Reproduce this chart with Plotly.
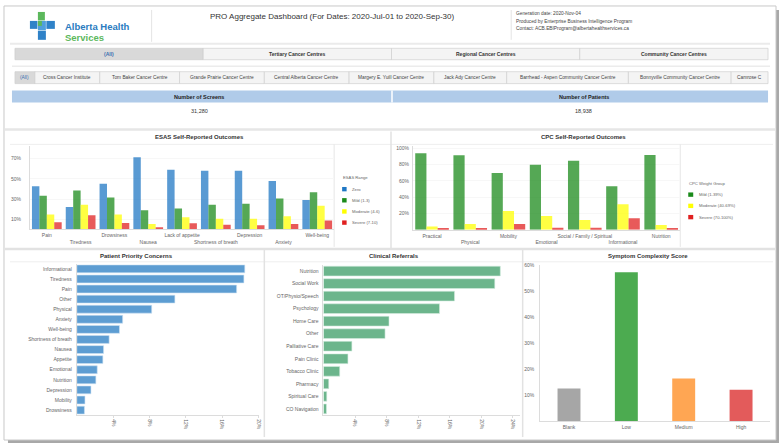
import plotly.graph_objects as go

W, H = 784, 445
FONT = "Liberation Sans, Arial, sans-serif"

# ---------------- data ----------------
esas_cats = ["Pain", "Tiredness", "Drowsiness", "Nausea", "Lack of appetite",
             "Shortness of breath", "Depression", "Anxiety", "Well-being"]
esas_zero = [42.7, 22.1, 45.0, 71.3, 59.0, 58.0, 58.0, 47.9, 29.0]
esas_mild = [33.2, 38.4, 31.6, 18.9, 20.8, 24.4, 25.4, 30.6, 36.8]
esas_moderate = [14.7, 24.4, 14.7, 5.5, 12.0, 10.7, 10.7, 13.0, 23.5]
esas_severe = [7.2, 14.0, 6.5, 2.3, 6.2, 4.6, 4.2, 5.5, 8.8]
esas_names = ["Zero", "Mild (1-3)", "Moderate (4-6)", "Severe (7-10)"]
esas_ticks = [10, 30, 50, 70]

cpc_cats = ["Practical", "Physical", "Mobility", "Emotional",
            "Social / Family / Spiritual", "Informational", "Nutrition"]
cpc_mild = [93.9, 91.4, 69.8, 80.0, 84.9, 53.5, 91.8]
cpc_moderate = [4.0, 7.0, 22.9, 16.7, 11.8, 31.4, 5.7]
cpc_severe = [2.0, 2.0, 7.0, 2.4, 2.4, 13.9, 2.0]
cpc_names = ["Mild (1-39%)", "Moderate (40-69%)", "Severe (70-100%)"]
cpc_ticks = [20, 40, 60, 80, 100]

concern_cats = ["Informational", "Tiredness", "Pain", "Other", "Physical", "Anxiety",
                "Well-being", "Shortness of breath", "Nausea", "Appetite", "Emotional",
                "Nutrition", "Depression", "Mobility", "Drowsiness"]
concern_vals = [18.5, 18.4, 17.6, 10.8, 8.25, 5.05, 4.7, 3.56, 2.95, 2.87, 2.25,
                2.1, 1.56, 0.9, 0.84]
concern_ticks = [4, 8, 12, 16, 20]

referral_cats = ["Nutrition", "Social Work", "OT/Physio/Speech", "Psychology", "Home Care",
                 "Other", "Palliative Care", "Pain Clinic", "Tobacco Clinic", "Pharmacy",
                 "Spiritual Care", "CO Navigation"]
referral_vals = [22.4, 21.7, 16.6, 14.7, 8.3, 7.8, 3.6, 3.1, 2.06, 0.67, 0.42, 0.38]
referral_ticks = [4, 8, 12, 16, 20, 24]

complexity_cats = ["Blank", "Low", "Medium", "High"]
complexity_vals = [12.7, 57.4, 16.5, 12.2]
complexity_ticks = [10, 20, 30, 40, 50, 60]

group_tabs = ["(All)", "Tertiary Cancer Centres", "Regional Cancer Centres",
              "Community Cancer Centres"]
site_tabs = ["(All)", "Cross Cancer Institute", "Tom Baker Cancer Centre",
             "Grande Prairie Cancer Centre", "Central Alberta Cancer Centre",
             "Margery E. Yuill Cancer Centre", "Jack Ady Cancer Centre",
             "Barrhead - Aspen Community Cancer Centre",
             "Bonnyville Community Cancer Centre", "Camrose C"]
kpi_labels = ["Number of Screens", "Number of Patients"]
kpi_values = ["31,280", "18,938"]
title_text = "PRO Aggregate Dashboard (For Dates: 2020-Jul-01 to 2020-Sep-30)"
info_lines = ["Generation date: 2020-Nov-04",
              "Produced by Enterprise Business Intelligence Program",
              "Contact: ACB.EBIProgram@albertahealthservices.ca"]

# ---------------- styles ----------------
esas_colors = ["#1f77c4", "#1a8a1a", "#ffff00", "#e02020"]
cpc_colors = ["#1a8a1a", "#ffff00", "#e02020"]
concern_color = "#5d9dd2"
referral_color = "#6cb58c"
complexity_colors = ["#a6a6a6", "#4cab50", "#ffa653", "#e35b5b"]
site_edges = [15, 35, 100, 180, 265, 350, 435, 508, 630, 733, 770]


def X(px):
    return px / W


def Y(py):
    return 1 - py / H


def pct(vals):
    return [f"{v}%" for v in vals]


shapes = []
annotations = []


def rect(x0, y0, x1, y1, fill=None, line=None, lw=1):
    shapes.append(dict(type="rect", xref="paper", yref="paper",
                       x0=X(x0), x1=X(x1), y0=Y(y1), y1=Y(y0),
                       fillcolor=fill or "rgba(0,0,0,0)",
                       line=dict(color=line or "rgba(0,0,0,0)", width=lw if line else 0),
                       layer="below"))


def hline(x0, x1, y, color="#e0e0e0", lw=1):
    shapes.append(dict(type="line", xref="paper", yref="paper", x0=X(x0), x1=X(x1),
                       y0=Y(y), y1=Y(y), line=dict(color=color, width=lw), layer="below"))


def vline(x, y0, y1, color="#e0e0e0", lw=1):
    shapes.append(dict(type="line", xref="paper", yref="paper", x0=X(x), x1=X(x),
                       y0=Y(y0), y1=Y(y1), line=dict(color=color, width=lw), layer="below"))


def txt(x, y, s, size=5, color="#333", xanchor="center", bold=False, family=FONT):
    annotations.append(dict(x=X(x), y=Y(y), xref="paper", yref="paper",
                            text=f"<b>{s}</b>" if bold else s, showarrow=False,
                            font=dict(size=size, color=color, family=family),
                            xanchor=xanchor, yanchor="middle", borderpad=0))


# ---------------- frame ----------------
rect(8, 8, 781, 443, fill="#a8a8a8")
rect(4, 4, 778, 440, fill="#ffffff", line="#c8c8c8")

# header / logo
rect(38, 10, 45, 18.5, fill="#5cb85c")
rect(30, 19, 37.5, 27, fill="#2f82c8")
rect(38, 19, 46, 28.5, fill="#4f9fdc")
rect(38, 19, 42, 24, fill="#5cb85c")
rect(46.5, 19, 55, 27, fill="#2f82c8")
rect(38, 29, 46, 38, fill="#2f82c8")
txt(64, 25, "Alberta Health", size=9.5, color="#2a7bc0", xanchor="left", bold=True)
txt(64, 35.5, "Services", size=9.5, color="#5cb85c", xanchor="left", bold=True)
vline(152, 8, 40, "#e4e4e4")
vline(512.5, 8, 38, "#e4e4e4")
txt(333, 15, title_text, size=8, color="#333")
for i, s in enumerate(info_lines):
    txt(516, 12 + i * 7.3, s, size=4.8, color="#444", xanchor="left")
hline(10, 772, 42, "#ebebeb", 2)

# group tabs
tw = (770 - 15) / len(group_tabs)
for i, s in enumerate(group_tabs):
    x0 = 15 + i * tw
    rect(x0, 46.5, x0 + tw, 58, fill="#d9d9d9" if i == 0 else "#f4f4f4", line="#cfcfcf", lw=0.7)
    txt(x0 + tw / 2, 52.3, s, size=5, color="#3a6fb0" if i == 0 else "#333", bold=True)
hline(12, 772, 64.5, "#ececec", 1.5)

# site tabs
for i, s in enumerate(site_tabs):
    x0, x1 = site_edges[i], site_edges[i + 1]
    rect(x0, 70, x1, 82, fill="#d9d9d9" if i == 0 else "#f4f4f4", line="#d0d0d0", lw=0.7)
    txt((x0 + x1) / 2, 76, s, size=4.8, color="#3a6fb0" if i == 0 else "#444")

# KPI bar
rect(12, 89, 770, 101, fill="#b0cbe9")
vline(393, 89, 101, "#ffffff", 1.5)
for i, (lab, val) in enumerate(zip(kpi_labels, kpi_values)):
    cx = 200 if i == 0 else 585
    txt(cx, 95, lab, size=5.5, color="#222", bold=True)
    txt(cx, 109, val, size=5.5, color="#333")

# section separators
hline(5, 777, 128, "#e6e6e6", 2.5)
hline(10, 775, 143, "#eeeeee", 1)
vline(392, 130, 248, "#e2e2e2", 1.5)
vline(335, 143, 246, "#e6e6e6", 1)
vline(682, 143, 246, "#e6e6e6", 1)
hline(5, 777, 248, "#e2e2e2", 2.5)
hline(10, 775, 261, "#eeeeee", 1)
vline(265, 249, 437, "#e2e2e2", 1.5)
vline(524, 249, 437, "#e2e2e2", 1.5)

txt(200, 136, "ESAS Self-Reported Outcomes", size=6, color="#333", bold=True)
txt(585, 136, "CPC Self-Reported Outcomes", size=6, color="#333", bold=True)
txt(137, 255, "Patient Priority Concerns", size=6, color="#333", bold=True)
txt(395, 255, "Clinical Referrals", size=6, color="#333", bold=True)
txt(650, 255, "Symptom Complexity Score", size=6, color="#333", bold=True)

# manual legends
txt(343, 176, "ESAS Range", size=4.2, color="#666", xanchor="left")
for i, (n, c) in enumerate(zip(esas_names, esas_colors)):
    yy = 188 + i * 11.2
    rect(343, yy - 2.2, 347.5, yy + 2.2, fill=c)
    txt(352, yy, n, size=4.2, color="#666", xanchor="left")
txt(690, 182, "CPC Weight Group", size=4.2, color="#666", xanchor="left")
for i, (n, c) in enumerate(zip(cpc_names, cpc_colors)):
    yy = 193.5 + i * 11.3
    rect(690, yy - 2.2, 695, yy + 2.2, fill=c)
    txt(700, yy, n, size=4.2, color="#666", xanchor="left")

# ---------------- traces ----------------
fig = go.Figure()
for name, vals, col in zip(esas_names, [esas_zero, esas_mild, esas_moderate, esas_severe], esas_colors):
    fig.add_trace(go.Bar(x=esas_cats, y=vals, name=name,
                         marker=dict(color=col, opacity=0.74, line=dict(width=0)),
                         xaxis="x", yaxis="y", showlegend=False))
for name, vals, col in zip(cpc_names, [cpc_mild, cpc_moderate, cpc_severe], cpc_colors):
    fig.add_trace(go.Bar(x=cpc_cats, y=vals, name=name,
                         marker=dict(color=col, opacity=0.74, line=dict(width=0)),
                         xaxis="x2", yaxis="y2", showlegend=False))
fig.add_trace(go.Bar(x=concern_vals, y=concern_cats, orientation="h", width=0.78,
                     marker=dict(color=concern_color, line=dict(color="#cfe2f3", width=0.6)),
                     xaxis="x3", yaxis="y3", showlegend=False))
fig.add_trace(go.Bar(x=referral_vals, y=referral_cats, orientation="h", width=0.78,
                     marker=dict(color=referral_color, line=dict(color="#d5ece0", width=0.6)),
                     xaxis="x4", yaxis="y4", showlegend=False))
fig.add_trace(go.Bar(x=complexity_cats, y=complexity_vals, width=0.4,
                     marker=dict(color=complexity_colors, line=dict(width=0)),
                     xaxis="x5", yaxis="y5", showlegend=False))

tickf = dict(size=5, color="#666", family=FONT)
base = dict(showline=True, linecolor="#dcdcdc", linewidth=1, zeroline=False,
            tickfont=tickf, fixedrange=True, ticks="")

esas_ticktext = [c if i % 2 == 0 else "<br>" + c for i, c in enumerate(esas_cats)]
cpc_ticktext = [c if i % 2 == 0 else "<br>" + c for i, c in enumerate(cpc_cats)]

fig.update_layout(
    width=W, height=H, autosize=False,
    margin=dict(l=0, r=0, t=0, b=0),
    paper_bgcolor="#ffffff", plot_bgcolor="rgba(0,0,0,0)",
    font=dict(family=FONT),
    barmode="group", bargap=0.12, bargroupgap=0,
    showlegend=False,
    shapes=shapes, annotations=annotations,
    xaxis=dict(base, domain=[X(30), X(335)], anchor="y", tickmode="array",
               tickvals=esas_cats, ticktext=esas_ticktext, tickangle=0,
               showgrid=False, ticklabelstandoff=1),
    yaxis=dict(base, domain=[Y(228.5), Y(145)], anchor="x", range=[0, 82],
               tickmode="array", tickvals=esas_ticks, ticktext=pct(esas_ticks),
               showgrid=True, gridcolor="#f7f7f7", ticklabelstandoff=7),
    xaxis2=dict(base, domain=[X(414), X(682)], anchor="y2", tickmode="array",
                tickvals=cpc_cats, ticktext=cpc_ticktext, tickangle=0,
                showgrid=False, ticklabelstandoff=1),
    yaxis2=dict(base, domain=[Y(228.7), Y(145)], anchor="x2", range=[0, 102.5],
                tickmode="array", tickvals=cpc_ticks, ticktext=pct(cpc_ticks),
                showgrid=True, gridcolor="#f7f7f7", ticklabelstandoff=2),
    xaxis3=dict(base, domain=[X(77), X(260)], anchor="y3", range=[0, 20.1],
                tickmode="array", tickvals=concern_ticks, ticktext=pct(concern_ticks),
                tickangle=90, showgrid=False, ticks="outside", ticklen=2,
                tickcolor="#dcdcdc"),
    yaxis3=dict(base, domain=[Y(415), Y(263)], anchor="x3", autorange="reversed",
                showgrid=False, ticklabelstandoff=3),
    xaxis4=dict(base, domain=[X(324.3), X(521)], anchor="y4", range=[0, 24.85],
                tickmode="array", tickvals=referral_ticks, ticktext=pct(referral_ticks),
                tickangle=90, showgrid=False, ticks="outside", ticklen=2,
                tickcolor="#dcdcdc"),
    yaxis4=dict(base, domain=[Y(415), Y(264)], anchor="x4", autorange="reversed",
                showgrid=False, ticklabelstandoff=3),
    xaxis5=dict(base, domain=[X(541.7), X(771.7)], anchor="y5", tickangle=0,
                showgrid=False, ticklabelstandoff=1),
    yaxis5=dict(base, domain=[Y(421.3), Y(264)], anchor="x5", range=[0, 60.3],
                tickmode="array", tickvals=complexity_ticks, ticktext=pct(complexity_ticks),
                showgrid=False, ticklabelstandoff=4),
)

fig.write_html("out.html", config={"displayModeBar": False},
               post_script="document.body.style.margin='0';document.body.style.padding='0';document.body.style.overflow='hidden';")
